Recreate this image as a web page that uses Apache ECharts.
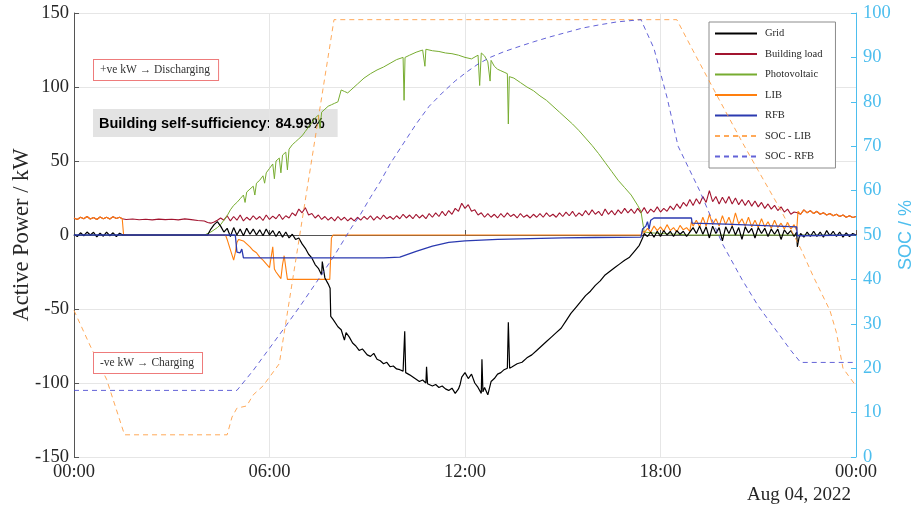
<!DOCTYPE html>
<html><head><meta charset="utf-8">
<script src="https://cdn.jsdelivr.net/npm/echarts@6/dist/echarts.min.js"></script>
<style>html,body{margin:0;padding:0;background:#fff}#c{width:921px;height:510px}</style>
</head><body><div id="c"></div>
<script>
// ---- data: [hour of day, value] ----
const xTicks = [0, 6, 12, 18, 24];
const loadKW = [[0,11.5],[0.1,10.5],[0.2,12],[0.3,11],[0.4,12.5],[0.5,10.8],[0.6,11.8],[0.7,10.5],[0.8,12.2],[0.9,11],[1,12],[1.1,10.8],[1.2,12.4],[1.3,11.2],[1.4,12],[1.48,11],[1.6,10.5],[1.8,10.8],[2,10.3],[2.2,10.6],[2.4,10.2],[2.6,10.7],[2.8,10.4],[3,10.6],[3.2,10.2],[3.4,10.9],[3.6,10.4],[3.8,9.8],[4,9.5],[4.1,8.5],[4.2,8],[4.3,8.8],[4.4,10],[4.5,11.5],[4.6,10],[4.7,13],[4.8,9.5],[4.9,12.5],[5,10],[5.1,13.5],[5.2,9.5],[5.3,12],[5.4,10],[5.5,13],[5.6,10.5],[5.7,12.5],[5.8,9.8],[5.9,13.5],[6,10.5],[6.1,12.8],[6.2,11],[6.3,14],[6.4,10.5],[6.5,13],[6.6,11.5],[6.7,15],[6.8,13],[6.9,17.5],[7,15],[7.1,18.5],[7.2,13.5],[7.3,14.5],[7.4,11.5],[7.5,13.5],[7.6,10.5],[7.7,12.5],[7.8,10],[7.9,12],[8,9.5],[8.1,12.5],[8.2,10],[8.3,12],[8.4,9.5],[8.5,11.5],[8.6,9.5],[8.7,12],[8.8,10],[8.9,12.5],[9,10.5],[9.1,13],[9.2,10],[9.3,12.5],[9.4,10.5],[9.5,13.5],[9.6,11],[9.7,12.5],[9.8,10.5],[9.9,13],[10,11],[10.1,14],[10.2,11.5],[10.3,13.5],[10.4,11],[10.5,14],[10.6,11.5],[10.7,13.5],[10.8,11],[10.9,14.5],[11,12],[11.1,15],[11.2,12.5],[11.3,16],[11.4,13],[11.5,16.5],[11.6,14],[11.7,18],[11.8,16],[11.9,21.5],[12,18],[12.1,20.5],[12.2,16],[12.3,17],[12.4,13.5],[12.5,15],[12.6,12],[12.7,14.5],[12.8,12],[12.9,14],[13,11.5],[13.1,14.5],[13.2,12],[13.3,15],[13.4,12.5],[13.5,14],[13.6,11.5],[13.7,14.5],[13.8,12],[13.9,13.5],[14,11.5],[14.1,14],[14.2,12],[14.3,14.5],[14.4,12],[14.5,15],[14.6,12.5],[14.7,14],[14.8,12],[14.9,15],[15,12.5],[15.1,15.5],[15.2,13],[15.3,16],[15.4,12.5],[15.5,15],[15.6,13],[15.7,16.5],[15.8,13.5],[15.9,17],[16,14],[16.1,16],[16.2,13],[16.3,17.5],[16.4,14],[16.5,16.5],[16.6,13.5],[16.7,17],[16.8,14.5],[16.9,18],[17,15],[17.1,17.5],[17.2,14.5],[17.3,18],[17.4,15],[17.5,18.5],[17.6,14.5],[17.7,17.5],[17.8,15.5],[17.9,19],[18,15.5],[18.1,18],[18.2,16],[18.3,19.5],[18.4,17],[18.5,21],[18.6,18],[18.7,22],[18.8,19.5],[18.9,24],[19,20],[19.1,24.5],[19.2,21],[19.3,26],[19.4,22],[19.5,30],[19.6,22.5],[19.7,26],[19.8,21],[19.9,25.5],[20,21.5],[20.1,26],[20.2,21],[20.3,25],[20.4,20.5],[20.5,24],[20.6,20],[20.7,23.5],[20.8,19.5],[20.9,23],[21,19],[21.1,22],[21.2,18],[21.3,21],[21.4,17.5],[21.5,20],[21.6,16.5],[21.7,19],[21.8,15.5],[21.9,17.5],[22,14],[22.1,15.5],[22.2,15],[22.22,16],[22.3,14],[22.4,17],[22.5,15],[22.6,16.5],[22.7,14.5],[22.8,16],[22.9,14],[23,15],[23.1,13.5],[23.2,14.5],[23.3,13],[23.4,14],[23.5,12.5],[23.6,13.5],[23.7,12],[23.8,13],[23.9,11.8],[24,12.5]];
const pvKW = [[0,0],[4,0],[4.2,2],[4.4,5],[4.5,7],[4.6,10],[4.7,13],[4.8,17],[4.9,20],[5,22],[5.1,24.5],[5.2,27],[5.25,22],[5.3,29],[5.4,31],[5.5,33],[5.55,27],[5.6,35],[5.7,37],[5.8,40],[5.85,35],[5.9,42],[6,45],[6.1,48],[6.15,38],[6.2,50],[6.3,52],[6.35,42],[6.4,54],[6.5,56],[6.55,44],[6.6,58],[6.7,61],[6.8,63],[6.9,65],[7,67],[7.1,70],[7.2,73],[7.3,76],[7.4,79],[7.5,81],[7.55,72],[7.6,83],[7.7,85],[7.8,87],[7.9,88],[8,89],[8.1,90],[8.2,98],[8.3,97],[8.4,96],[8.5,98],[8.7,102],[8.9,106],[9.1,109],[9.3,111.5],[9.5,113.5],[9.7,116],[9.9,118.5],[10.1,120],[10.13,91],[10.16,120],[10.3,121.5],[10.5,123.5],[10.7,125],[10.77,114],[10.8,125.5],[11,124.5],[11.2,124],[11.4,123],[11.6,122.5],[11.8,121.5],[12,120],[12.2,119],[12.4,121.5],[12.45,101],[12.5,123],[12.6,121],[12.7,117],[12.77,104],[12.8,118],[12.9,114],[13,112],[13.1,111],[13.2,110],[13.3,109],[13.33,75],[13.36,107],[13.5,106],[13.7,103],[13.9,100],[14.1,97.5],[14.3,94],[14.5,91],[14.7,87],[14.9,83],[15.1,79],[15.3,75],[15.5,70.5],[15.7,65.5],[15.9,60.5],[16.1,55],[16.3,49],[16.5,43],[16.7,37],[16.9,32],[17.1,27],[17.3,20],[17.4,16],[17.5,2],[17.7,1.5],[18,1],[18.5,0.5],[18.9,0],[24,0]];
const libKW = [[0,11.5],[0.1,10.5],[0.2,12],[0.3,11],[0.4,12.5],[0.5,10.8],[0.6,11.8],[0.7,10.5],[0.8,12.2],[0.9,11],[1,12],[1.1,10.8],[1.2,12.4],[1.3,11.2],[1.4,12],[1.48,11],[1.52,0.5],[1.6,0],[4.65,0],[4.7,-3],[4.8,-10],[4.9,-17],[4.95,-12],[5,-5],[5.05,-3],[5.1,-2],[5.2,-4],[5.3,-6],[5.4,-8],[5.5,-10.5],[5.6,-12],[5.7,-15],[5.8,-17],[5.9,-19.5],[6,-22],[6.05,-21],[6.1,-8],[6.15,-23],[6.2,-25],[6.3,-28],[6.35,-29.5],[6.4,-20],[6.45,-14],[6.5,-22],[6.55,-30],[7.85,-30],[7.9,-2],[7.95,0],[17.42,0],[17.45,3],[17.5,1.5],[17.6,4.5],[17.7,2],[17.8,6],[17.9,3],[18,5.5],[18.1,2.5],[18.2,7],[18.3,3],[18.4,5],[18.5,2],[18.6,6.5],[18.7,3.5],[18.8,5],[18.9,2.5],[18.95,9],[19,6],[19.1,10],[19.2,5.5],[19.3,12],[19.4,6],[19.5,14],[19.6,7],[19.7,11],[19.8,6],[19.9,13],[20,7],[20.1,12],[20.2,6],[20.3,15],[20.4,7.5],[20.5,11],[20.6,6],[20.7,12],[20.8,5.5],[20.9,10],[21,5],[21.1,11],[21.2,5.5],[21.3,9],[21.4,4.5],[21.5,10],[21.6,5],[21.7,8],[21.8,4],[21.9,8.5],[22,4],[22.1,7],[22.18,3],[22.22,16],[22.3,14],[22.4,17],[22.5,15],[22.6,16.5],[22.7,14.5],[22.8,16],[22.9,14],[23,15],[23.1,13.5],[23.2,14.5],[23.3,13],[23.4,14],[23.5,12.5],[23.6,13.5],[23.7,12],[23.8,13],[23.9,11.8],[24,12.5]];
const rfbKW = [[0,0],[4.95,0],[5,-11.5],[5.1,-12],[5.15,-9.5],[5.2,-15.5],[9.5,-15.5],[10,-15],[10.5,-11],[11,-7.5],[11.5,-5],[12,-4],[13,-3],[14,-2.5],[15,-2],[16,-1.7],[17.4,-1.4],[17.45,4],[17.55,6],[17.6,9],[17.65,4],[17.7,10],[17.8,11.5],[18.95,11.5],[18.97,8],[20,7.3],[21,6.5],[22.18,5.5],[22.2,-0.5],[22.25,0],[24,0]];
const gridKW = [[0,0.5],[0.1,-1],[0.2,1.5],[0.3,-0.5],[0.4,2],[0.5,0],[0.6,1.8],[0.7,-1.2],[0.8,1.2],[0.9,-0.8],[1,2],[1.1,-0.5],[1.2,1.5],[1.3,-1],[1.4,1.2],[1.5,0],[4.1,0],[4.2,4],[4.3,7],[4.4,9],[4.5,6],[4.6,2],[4.7,4.5],[4.8,-1],[4.9,5],[5,0],[5.1,4],[5.2,-0.5],[5.3,4.5],[5.4,0.5],[5.5,4],[5.6,0],[5.7,3.5],[5.8,-0.5],[5.9,4],[6,0],[6.1,3],[6.2,-1],[6.3,2.5],[6.4,-1.5],[6.5,2],[6.6,-2],[6.7,0.5],[6.8,-3],[6.9,-2],[7,-6],[7.1,-9],[7.2,-13],[7.3,-15.5],[7.4,-20],[7.5,-22.5],[7.6,-27],[7.62,-18],[7.7,-29],[7.8,-33],[7.86,-36],[7.88,-55],[7.95,-57],[8,-56],[8.1,-62],[8.2,-64],[8.3,-71],[8.35,-66],[8.45,-69],[8.55,-73],[8.65,-75],[8.75,-78],[8.85,-77],[9,-81],[9.1,-82],[9.2,-80],[9.3,-84],[9.4,-85],[9.5,-87],[9.6,-86],[9.7,-89],[9.8,-88.5],[9.9,-90.5],[10,-91],[10.1,-92],[10.15,-65],[10.18,-93],[10.3,-94.5],[10.4,-96],[10.5,-97.5],[10.6,-99],[10.7,-98],[10.8,-100],[10.82,-89],[10.85,-100.5],[10.9,-101],[11,-102],[11.1,-101],[11.2,-103],[11.3,-102],[11.4,-104],[11.5,-105],[11.6,-103.5],[11.7,-107],[11.8,-104],[11.85,-101],[11.9,-96],[12,-93],[12.1,-97],[12.2,-94],[12.3,-100],[12.4,-103],[12.5,-107],[12.52,-84],[12.55,-106],[12.6,-103],[12.7,-108],[12.8,-99],[12.9,-97],[13,-94],[13.1,-93],[13.2,-91],[13.3,-90],[13.33,-59],[13.37,-90],[13.45,-89],[13.6,-87],[13.75,-86],[13.9,-83],[14.05,-81],[14.2,-78],[14.35,-75],[14.5,-72],[14.65,-69],[14.8,-66],[14.95,-63],[15.1,-58],[15.25,-53],[15.4,-49],[15.55,-45],[15.7,-41],[15.85,-38],[16,-34],[16.15,-31],[16.3,-27],[16.45,-24.5],[16.6,-22],[16.75,-19.5],[16.9,-17],[17.05,-15],[17.2,-11],[17.35,-7],[17.45,-2],[17.5,1],[17.6,-1],[17.7,2],[17.8,-1.5],[17.9,2.5],[18,-1],[18.1,3],[18.2,0],[18.3,2.5],[18.4,-1],[18.5,3],[18.6,0.5],[18.7,2.5],[18.8,-1],[18.9,2],[19,5],[19.1,1],[19.2,6],[19.3,0.5],[19.4,5.5],[19.5,-2],[19.6,6],[19.7,1],[19.8,5],[19.9,-4],[20,5.5],[20.1,1],[20.2,6],[20.3,0],[20.4,5],[20.5,-3],[20.6,5.5],[20.7,1.5],[20.8,4.5],[20.9,-2],[21,5],[21.1,1],[21.2,4.5],[21.3,-1],[21.4,4],[21.5,0.5],[21.6,4],[21.7,-3],[21.8,3.5],[21.9,0.5],[22,3],[22.1,-1],[22.18,2],[22.2,-8],[22.25,-2],[22.3,1],[22.4,-1.5],[22.5,2],[22.6,-1],[22.7,2.5],[22.8,-1],[22.9,2],[23,-1.5],[23.1,3],[23.2,-0.5],[23.3,2.5],[23.4,-1],[23.5,2],[23.6,-1.5],[23.7,1.5],[23.8,-1],[23.9,1],[24,0]];
const socLIB = [[0,33],[0.5,25],[1,17.5],[1.55,5],[4.7,5],[4.85,9],[5,11],[5.3,11.5],[5.5,14],[5.8,16],[6,18],[6.3,21],[7.98,98.5],[18.5,98.5],[19,91.5],[19.8,80.5],[20.5,71],[21,64.5],[21.7,55.5],[22.3,47],[22.7,40.5],[23.2,33],[23.4,28],[23.6,20],[24,16]];
const socRFB = [[0,15],[5,15],[5.5,19.5],[6,24.5],[6.5,29.5],[6.94,34],[7.5,40],[8,45.5],[8.5,51.5],[8.78,54.5],[9.1,58.5],[9.4,62],[9.7,66],[10.1,70.5],[10.5,75],[10.9,79],[11.33,82.2],[11.7,84.7],[12.05,86.7],[12.4,88.5],[12.77,90],[13.2,91.3],[13.6,92.3],[14.1,93.5],[14.6,94.6],[15.1,95.6],[15.6,96.6],[16.1,97.3],[16.67,98],[17.4,98.5],[17.8,92],[18.2,81],[18.54,70],[19.2,60],[19.9,48],[20.5,40],[21,34],[21.5,29],[22,24],[22.3,21.3],[24,21.3]];
const leftTicks = [-150, 150, 50];
const rightTicks = [0, 100, 10];

const serif = 'Liberation Serif';
const ink = '#262626';
const cyan = '#4DBEEE';
const chart = echarts.init(document.getElementById('c'), null, {renderer: 'canvas'});
function line(name, data, color, z, yIdx, dashed, opacity, width) {
  return {name, type: 'line', data, yAxisIndex: yIdx, symbol: 'none', showSymbol: false, z,
    lineStyle: {color, width: width || 1, type: dashed ? [5, 4] : 'solid', opacity: opacity || 1},
    itemStyle: {color}, animation: false};
}
chart.setOption({
  animation: false,
  grid: {left: 74, right: 65, top: 13, bottom: 53, containLabel: false, outerBoundsMode: 'none'},
  xAxis: {type: 'value', min: xTicks[0], max: xTicks[4], interval: 6,
    axisLine: {lineStyle: {color: '#555', width: 1}},
    axisTick: {inside: true, length: 5, lineStyle: {color: '#555'}},
    splitLine: {show: true, lineStyle: {color: '#e6e6e6'}},
    axisLabel: {color: ink, fontFamily: serif, fontSize: 18.5, margin: 6,
      formatter: v => String(v % 24).padStart(2, '0') + ':00'}},
  yAxis: [
    {type: 'value', min: leftTicks[0], max: leftTicks[1], interval: leftTicks[2], position: 'left',
      axisLine: {show: true, lineStyle: {color: '#555'}},
      axisTick: {show: true, inside: true, length: 5, lineStyle: {color: '#555'}},
      splitLine: {show: true, lineStyle: {color: '#e6e6e6'}},
      axisLabel: {color: ink, fontFamily: serif, fontSize: 18.5, margin: 5},
      name: 'Active Power / kW', nameLocation: 'middle', nameGap: 40, nameMoveOverlap: false,
      nameTextStyle: {fontFamily: serif, fontSize: 22.5, color: ink}},
    {type: 'value', min: rightTicks[0], max: rightTicks[1], interval: rightTicks[2], position: 'right',
      axisLine: {show: true, lineStyle: {color: cyan}},
      axisTick: {show: true, inside: true, length: 5, lineStyle: {color: cyan}},
      splitLine: {show: false},
      axisLabel: {color: cyan, fontFamily: serif, fontSize: 18.5, margin: 7},
      name: 'SOC / %', nameLocation: 'middle', nameRotate: 90, nameGap: 41, nameMoveOverlap: false,
      nameTextStyle: {fontFamily: 'Liberation Sans', fontSize: 18, color: cyan}}
  ],
  legend: {orient: 'vertical', left: 709, top: 22, itemWidth: 42, itemHeight: 12, itemGap: 9.5,
    padding: [6, 13, 6, 5], backgroundColor: '#fff', borderColor: '#8c8c8c', borderWidth: 1,
    textStyle: {fontFamily: serif, fontSize: 10.5, color: ink, padding: [0, 0, 0, 3]},
    lineStyle: {width: 2},
    itemStyle: {opacity: 0, borderWidth: 0},
    data: ['Grid', 'Building load', 'Photovoltaic', 'LIB', 'RFB', 'SOC - LIB', 'SOC - RFB']},
  series: [
    line('Building load', loadKW, '#A2142F', 2, 0, false, 1, 1.1),
    line('Photovoltaic', pvKW, '#77AC30', 3, 0),
    line('LIB', libKW, '#FF7F0E', 4, 0, false, 1, 1.1),
    line('Grid', gridKW, '#000000', 5, 0, false, 1, 1.2),
    line('RFB', rfbKW, '#2B3AB0', 6, 0, false, 1, 1.3),
    line('SOC - LIB', socLIB, '#FF9A3C', 7, 1, true, 0.85),
    line('SOC - RFB', socRFB, '#4848D0', 7, 1, true, 0.85)
  ],
  graphic: [
    {type: 'text', left: 93, top: 109, z: 0, silent: true,
      style: {text: 'Building self-sufficiency: 84.99%', fill: '#000', font: 'bold 14.5px "Liberation Sans"',
        backgroundColor: 'rgba(224,224,224,0.9)', padding: [7, 13, 6, 6]}},
    {type: 'text', left: 93, top: 59, z: 100,
      style: {text: '+ve kW \u2192 Discharging', fill: '#333', font: '11.5px "Liberation Serif"',
        backgroundColor: '#fff', borderColor: '#EE7B7B', borderWidth: 1, padding: [4, 8, 4, 6]}},
    {type: 'text', left: 93, top: 352, z: 100,
      style: {text: '-ve kW \u2192 Charging', fill: '#333', font: '11.5px "Liberation Serif"',
        backgroundColor: '#fff', borderColor: '#EE7B7B', borderWidth: 1, padding: [4, 8, 4, 6]}},
    {type: 'text', right: 70, top: 486, z: 100,
      style: {text: 'Aug 04, 2022', fill: ink, font: '19px "Liberation Serif"'}}
  ]
});
</script></body></html>
